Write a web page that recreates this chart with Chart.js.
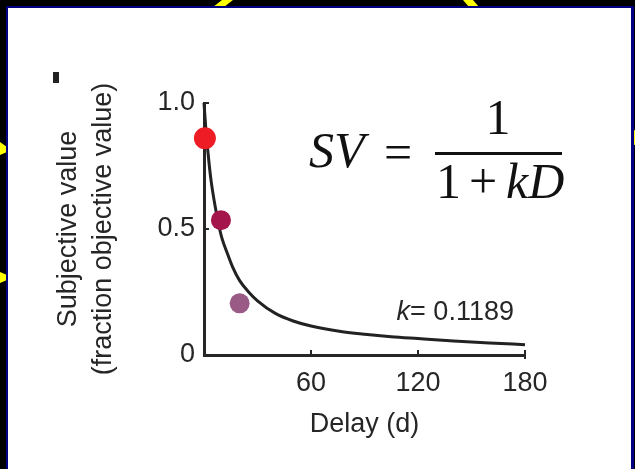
<!DOCTYPE html>
<html>
<head>
<meta charset="utf-8">
<script src="https://cdn.jsdelivr.net/npm/chart.js@4/dist/chart.umd.min.js"></script>
<style>
  html, body { margin: 0; padding: 0; background: #000; }
  #wrap { width: 635px; height: 469px; }
</style>
</head>
<body>
<div id="wrap"><canvas id="chart" width="635" height="469"></canvas></div>
<script>
// fitted hyperbolic curve
const delayDays = [0, 1, 2, 3, 4, 6, 8, 10, 13, 16, 20, 25, 30, 40, 50, 60, 75, 90, 105, 120, 140, 160, 180];
const fittedValue = [1.0, 0.90, 0.82, 0.75, 0.69, 0.60, 0.525, 0.465, 0.405, 0.35, 0.295, 0.25, 0.215, 0.165, 0.135, 0.115, 0.095, 0.082, 0.072, 0.065, 0.056, 0.048, 0.041];

// measured choices
const trialDelay = [0.5, 9.5, 20];
const trialValue = [0.86, 0.535, 0.205];
const trialColors = ["#ee1c25", "#a3154b", "#9a5a86"];
const trialRadius = [11, 10, 10];

const xTicks = [0, 60, 120, 180];
const yTicks = [0, 0.5, 1.0];
const yTickLabels = ["0", "0.5", "1.0"];
const kLabel = "0.1189";

const ink = "#262626";
const sans = "'Liberation Sans', Arial, sans-serif";

const frame = {
  id: "frame",
  beforeDraw(chart) {
    const c = chart.ctx;
    c.save();
    c.fillStyle = "#000";
    c.fillRect(0, 0, 635, 469);
    c.fillStyle = "#ffff00";
    const polys = [
      [[222, 0], [233, 0], [224, 7], [213, 7]],
      [[463, 0], [473, 0], [479, 7], [469, 7]],
      [[0, 142], [7, 147], [7, 152], [0, 155]],
      [[0, 272], [7, 275], [7, 280], [0, 283]],
      [[629, 133], [635, 130], [635, 145], [629, 143]],
    ];
    polys.forEach((p) => {
      c.beginPath();
      p.forEach(([x, y], i) => (i ? c.lineTo(x, y) : c.moveTo(x, y)));
      c.closePath();
      c.fill();
    });
    c.fillStyle = "#000080";
    c.fillRect(6, 6, 628, 463);
    c.fillStyle = "#fff";
    c.fillRect(8, 8, 623, 461);
    // panel letter remnant
    c.fillStyle = "#222";
    c.fillRect(53, 72, 6, 11);
    c.restore();
  },
  afterDraw(chart) {
    const c = chart.ctx;
    const xs = chart.scales.x;
    const ys = chart.scales.y;
    c.save();
    // inward tick marks
    c.strokeStyle = ink;
    c.lineWidth = 2;
    c.beginPath();
    [60, 120, 180].forEach((v) => {
      const px = xs.getPixelForValue(v);
      c.moveTo(px, ys.bottom);
      c.lineTo(px, ys.bottom - 5);
    });
    const px180 = xs.getPixelForValue(180);
    c.moveTo(px180, ys.bottom);
    c.lineTo(px180, ys.bottom + 4);
    [0.5, 1.0].forEach((v) => {
      const py = ys.getPixelForValue(v);
      c.moveTo(xs.left, py);
      c.lineTo(xs.left + 5, py);
    });
    c.stroke();

    // k label
    c.fillStyle = ink;
    c.textBaseline = "alphabetic";
    c.textAlign = "left";
    let x = xs.getPixelForValue(108);
    const yb = ys.getPixelForValue(0.14);
    c.font = "italic 27px " + sans;
    c.fillText("k", x, yb);
    x += c.measureText("k").width;
    c.font = "27px " + sans;
    c.fillText("= " + kLabel, x, yb);

    // formula
    const serif = "'Liberation Serif', 'Times New Roman', serif";
    c.fillStyle = "#111";
    c.font = "italic 50px " + serif;
    c.fillText("SV", 309, 167);
    c.font = "50px " + serif;
    c.fillText("=", 384, 169);
    c.fillRect(435, 152, 127, 3);
    c.textAlign = "center";
    c.fillText("1", 498, 134);
    c.textAlign = "left";
    c.fillText("1", 436, 198);
    c.fillText("+", 469, 198);
    c.font = "italic 50px " + serif;
    c.fillText("kD", 506, 198);
    c.restore();
  },
};

const curvePoints = delayDays.map((d, i) => ({ x: d, y: fittedValue[i] }));
const trialPoints = trialDelay.map((d, i) => ({ x: d, y: trialValue[i] }));

new Chart(document.getElementById("chart"), {
  type: "scatter",
  data: {
    datasets: [
      {
        data: trialPoints,
        pointRadius: trialRadius,
        pointBackgroundColor: trialColors,
        pointBorderColor: trialColors,
        pointBorderWidth: 0,
        clip: false,
        order: 0,
      },
      {
        type: "line",
        data: curvePoints,
        borderColor: "#222",
        borderWidth: 3,
        pointRadius: 0,
        cubicInterpolationMode: "monotone",
        fill: false,
        clip: false,
        order: 1,
      },
    ],
  },
  options: {
    responsive: false,
    animation: false,
    devicePixelRatio: 1,
    layout: { padding: { top: 103, right: 110, left: 0, bottom: 0 } },
    plugins: { legend: { display: false }, tooltip: { enabled: false } },
    scales: {
      x: {
        type: "linear",
        min: 0,
        max: 180,
        afterBuildTicks: (s) => { s.ticks = xTicks.map((v) => ({ value: v })); },
        afterFit: (s) => { s.height = 114; },
        grid: { display: false, drawTicks: false },
        border: { display: true, color: ink, width: 3 },
        ticks: {
          color: ink,
          font: { family: sans, size: 27 },
          padding: 12,
          maxRotation: 0,
          callback: (v) => (v === 0 ? "" : String(v)),
        },
        title: {
          display: true,
          text: "Delay (d)",
          color: ink,
          font: { family: sans, size: 27 },
          padding: { top: 0, bottom: 28 },
        },
      },
      y: {
        min: 0,
        max: 1,
        afterBuildTicks: (s) => { s.ticks = yTicks.map((v) => ({ value: v })); },
        afterFit: (s) => { s.width = 204; },
        grid: { display: false, drawTicks: false },
        border: { display: true, color: ink, width: 3 },
        ticks: {
          color: ink,
          font: { family: sans, size: 27 },
          padding: 9,
          callback: (v) => yTickLabels[yTicks.indexOf(v)],
        },
        title: {
          display: true,
          text: ["Subjective value", "(fraction objective value)"],
          color: ink,
          font: { family: sans, size: 27, lineHeight: 1.3 },
          padding: { top: 51, bottom: 0 },
        },
      },
    },
  },
  plugins: [frame],
});
</script>
</body>
</html>
